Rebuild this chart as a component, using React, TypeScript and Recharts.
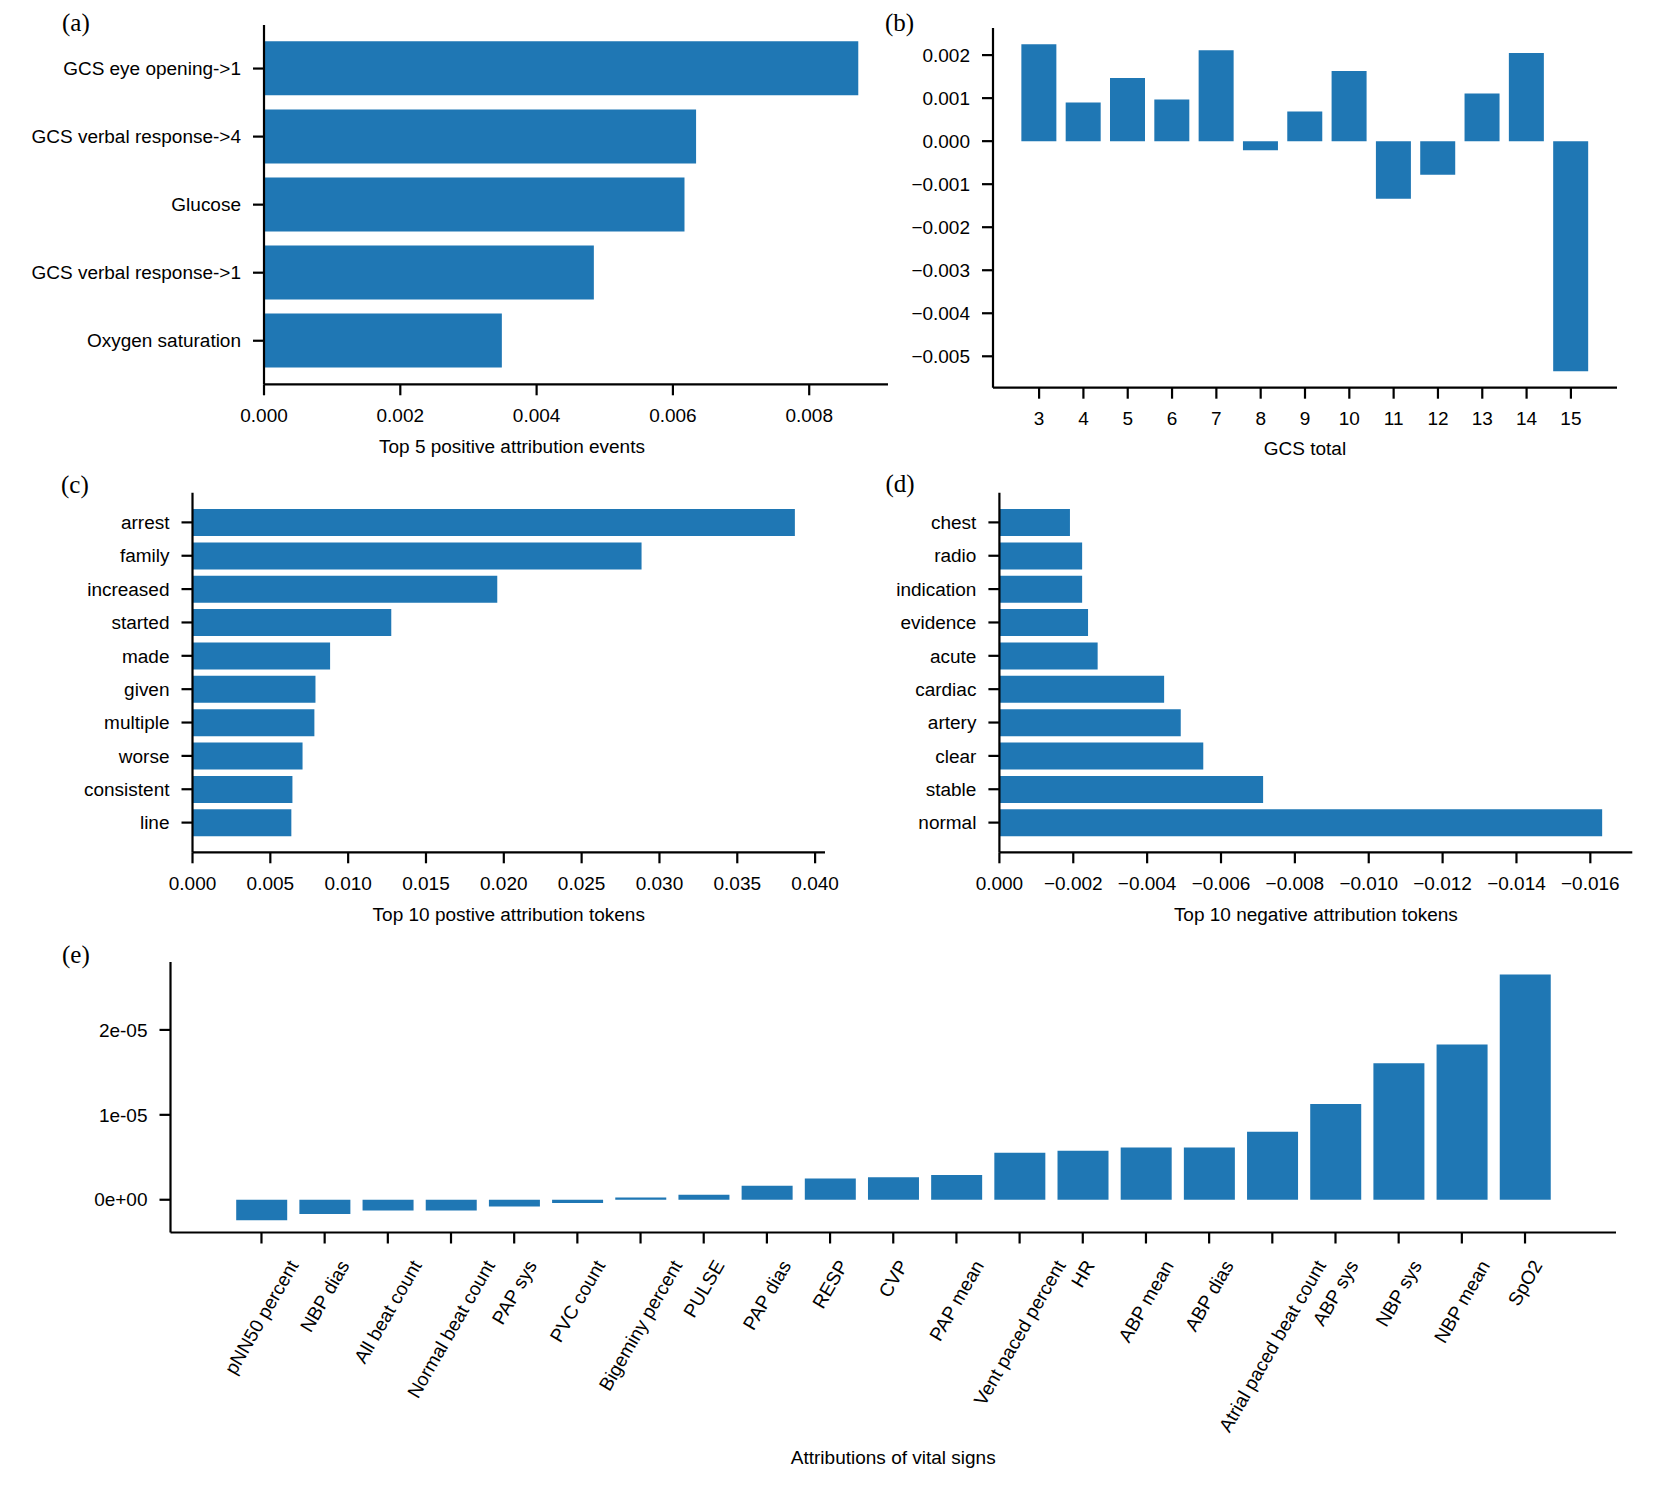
import { BarChart, Bar, XAxis, YAxis, Label } from 'recharts'

// (a) top 5 positive attribution events
const eventNames = ['GCS eye opening->1', 'GCS verbal response->4', 'Glucose', 'GCS verbal response->1', 'Oxygen saturation']
const eventValues = [0.00872, 0.00634, 0.00617, 0.00484, 0.00349]
const eventTicks = [0, 0.002, 0.004, 0.006, 0.008]

// (b) GCS total
const gcsTotals = ['3', '4', '5', '6', '7', '8', '9', '10', '11', '12', '13', '14', '15']
const gcsValues = [0.00225, 0.0009, 0.00147, 0.00097, 0.00211, -0.00021, 0.00069, 0.00163, -0.00134, -0.00078, 0.00111, 0.00205, -0.00535]
const gcsTicks = [0.002, 0.001, 0, -0.001, -0.002, -0.003, -0.004, -0.005]

// (c) top 10 positive tokens
const posTokens = ['arrest', 'family', 'increased', 'started', 'made', 'given', 'multiple', 'worse', 'consistent', 'line']
const posValues = [0.0387, 0.02885, 0.01958, 0.01277, 0.00884, 0.0079, 0.00783, 0.00707, 0.00642, 0.00635]
const posTicks = [0, 0.005, 0.01, 0.015, 0.02, 0.025, 0.03, 0.035, 0.04]

// (d) top 10 negative tokens
const negTokens = ['chest', 'radio', 'indication', 'evidence', 'acute', 'cardiac', 'artery', 'clear', 'stable', 'normal']
const negValues = [-0.00191, -0.00224, -0.00224, -0.0024, -0.00266, -0.00446, -0.00491, -0.00552, -0.00714, -0.01632]
const negTicks = [0, -0.002, -0.004, -0.006, -0.008, -0.01, -0.012, -0.014, -0.016]

// (e) vital signs
const vitalNames = [
  'pNN50 percent', 'NBP dias', 'All beat count', 'Normal beat count', 'PAP sys', 'PVC count',
  'Bigeminy percent', 'PULSE', 'PAP dias', 'RESP', 'CVP', 'PAP mean', 'Vent paced percent', 'HR',
  'ABP mean', 'ABP dias', 'Atrial paced beat count', 'ABP sys', 'NBP sys', 'NBP mean', 'SpO2',
]
const vitalValues = [
  -2.41e-6, -1.69e-6, -1.27e-6, -1.27e-6, -0.8e-6, -0.38e-6,
  0.25e-6, 0.59e-6, 1.65e-6, 2.49e-6, 2.66e-6, 2.91e-6, 5.53e-6, 5.78e-6,
  6.16e-6, 6.16e-6, 8.02e-6, 11.27e-6, 16.08e-6, 18.27e-6, 26.54e-6,
]
const vitalTicks = [0, 1e-5, 2e-5]

const BLUE = '#1f77b4'
const FONT = '"Liberation Sans", Arial, Helvetica, sans-serif'
const FS = 19
const tick = { fill: '#000', fontSize: FS }
const line = { stroke: '#000', strokeWidth: 2.2 }

const rows = (names: string[], values: number[]) => names.map((name, i) => ({ name, value: values[i] }))

// matplotlib-like 5% margins, sticky at zero
function padded(values: number[]): [number, number] {
  const lo = Math.min(0, ...values)
  const hi = Math.max(0, ...values)
  const r = hi - lo
  return [lo < 0 ? lo - 0.05 * r : 0, hi > 0 ? hi + 0.05 * r : 0]
}

// pixel padding so category bands sit like matplotlib bars (width 0.8, 5% margins)
function catPad(n: number, len: number) {
  const units = 1.1 * (n - 0.2)
  return ((0.05 * (n - 0.2) - 0.1) * len) / units
}

const fixed = (d: number) => (v: number) => (v < 0 ? '\u2212' : '') + Math.abs(v).toFixed(d)
const sci = (v: number) => v.toExponential(0).replace(/e([+-])(\d)$/, 'e$10$2')

type Box = { left: number; top: number; px: number; py: number; pw: number; ph: number; xh: number }

function frame(b: Box) {
  const right = 30
  const bottom = 12
  return {
    style: { position: 'absolute' as const, left: b.left, top: b.top },
    width: b.px - b.left + b.pw + right,
    height: b.py - b.top + b.ph + b.xh + bottom,
    margin: { top: b.py - b.top, right, bottom, left: 0 },
    yWidth: b.px - b.left,
  }
}

const boxA: Box = { left: 0, top: 0, px: 264, py: 25, pw: 624, ph: 359.3, xh: 68.6 }
const boxB: Box = { left: 880, top: 0, px: 993, py: 28, pw: 624, ph: 359.7, xh: 67.6 }
const boxC: Box = { left: 0, top: 470, px: 192.5, py: 492.7, pw: 632.5, ph: 359.6, xh: 68.6 }
const boxD: Box = { left: 860, top: 470, px: 999.4, py: 492.7, pw: 632.9, ph: 359.6, xh: 68.6 }
const boxE: Box = { left: 0, top: 930, px: 170.5, py: 962.1, pw: 1445.5, ph: 270.4, xh: 231.5 }

function HBarPanel({ box, data, ticks, fmt, xLabel, labelDx = 0, reversed }: {
  box: Box; data: { name: string; value: number }[]; ticks: number[]; fmt: (v: number) => string
  xLabel: string; labelDx?: number; reversed?: boolean
}) {
  const f = frame(box)
  const pad = catPad(data.length, box.ph)
  return (
    <div style={f.style}>
      <BarChart width={f.width} height={f.height} data={data} layout="vertical" margin={f.margin} barCategoryGap="10%">
        <XAxis type="number" dataKey="value" domain={padded(data.map(d => d.value))} ticks={ticks} tickFormatter={fmt}
          allowDataOverflow reversed={reversed} height={box.xh} interval={0}
          tick={tick} axisLine={line} tickLine={line} tickSize={11} tickMargin={13}>
          <Label value={xLabel} position="insideBottom" offset={0} dx={labelDx} fill="#000" fontSize={FS} />
        </XAxis>
        <YAxis type="category" dataKey="name" width={f.yWidth} interval={0} padding={{ top: pad, bottom: pad }}
          tick={tick} axisLine={line} tickLine={line} tickSize={11} tickMargin={12} />
        <Bar dataKey="value" fill={BLUE} isAnimationActive={false} />
      </BarChart>
    </div>
  )
}

let ctx: CanvasRenderingContext2D | null = null
function textWidth(s: string) {
  if (!ctx) ctx = document.createElement('canvas').getContext('2d')
  if (!ctx) return s.length * FS * 0.55
  ctx.font = `${FS}px ${FONT}`
  return ctx.measureText(s).width
}

// x tick label rotated 60 degrees, centred on the tick like matplotlib
function SlantTick({ x, y, payload }: any) {
  const label = String(payload.value)
  const w = textWidth(label)
  const cy = y + (0.866 * w + 0.5 * 1.117 * FS) / 2
  return (
    <text x={x} y={cy} dy="0.35em" textAnchor="middle" fontSize={FS} fill="#000" transform={`rotate(-60 ${x} ${cy})`}>
      {label}
    </text>
  )
}

function VBarPanel({ box, data, ticks, fmt, xLabel, slant }: {
  box: Box; data: { name: string; value: number }[]; ticks: number[]; fmt: (v: number) => string; xLabel: string; slant?: boolean
}) {
  const f = frame(box)
  const pad = catPad(data.length, box.pw)
  return (
    <div style={f.style}>
      <BarChart width={f.width} height={f.height} data={data} margin={f.margin} barCategoryGap="10%">
        <XAxis type="category" dataKey="name" height={box.xh} interval={0} padding={{ left: pad, right: pad }}
          tick={slant ? <SlantTick /> : tick} axisLine={line} tickLine={line} tickSize={11} tickMargin={13}>
          <Label value={xLabel} position="insideBottom" offset={0} fill="#000" fontSize={FS} />
        </XAxis>
        <YAxis type="number" domain={padded(data.map(d => d.value))} ticks={ticks} tickFormatter={fmt} allowDataOverflow
          width={f.yWidth} interval={0} tick={tick} axisLine={line} tickLine={line} tickSize={11} tickMargin={12} />
        <Bar dataKey="value" fill={BLUE} isAnimationActive={false} />
      </BarChart>
    </div>
  )
}

const panelTags = [
  { tag: '(a)', x: 62, y: 30.5 },
  { tag: '(b)', x: 885, y: 30.5 },
  { tag: '(c)', x: 61, y: 492.5 },
  { tag: '(d)', x: 885.5, y: 492.2 },
  { tag: '(e)', x: 62, y: 963 },
]

export default function App() {
  return (
    <div style={{ position: 'relative', width: 1661, height: 1490, margin: -8, background: '#fff', fontFamily: FONT, overflow: 'hidden' }}>
      <HBarPanel box={boxA} data={rows(eventNames, eventValues)} ticks={eventTicks} fmt={fixed(3)} xLabel="Top 5 positive attribution events" labelDx={-64} />
      <VBarPanel box={boxB} data={rows(gcsTotals, gcsValues)} ticks={gcsTicks} fmt={fixed(3)} xLabel="GCS total" />
      <HBarPanel box={boxC} data={rows(posTokens, posValues)} ticks={posTicks} fmt={fixed(3)} xLabel="Top 10 postive attribution tokens" />
      <HBarPanel box={boxD} data={rows(negTokens, negValues)} ticks={negTicks} fmt={fixed(3)} xLabel="Top 10 negative attribution tokens" reversed />
      <VBarPanel box={boxE} data={rows(vitalNames, vitalValues)} ticks={vitalTicks} fmt={sci} xLabel="Attributions of vital signs" slant />
      <svg width={1661} height={1490} style={{ position: 'absolute', left: 0, top: 0, pointerEvents: 'none' }}>
        {panelTags.map(p => (
          <text key={p.tag} x={p.x} y={p.y} fontFamily='"Liberation Serif", "Times New Roman", serif' fontSize={25} fill="#000">{p.tag}</text>
        ))}
      </svg>
    </div>
  )
}
